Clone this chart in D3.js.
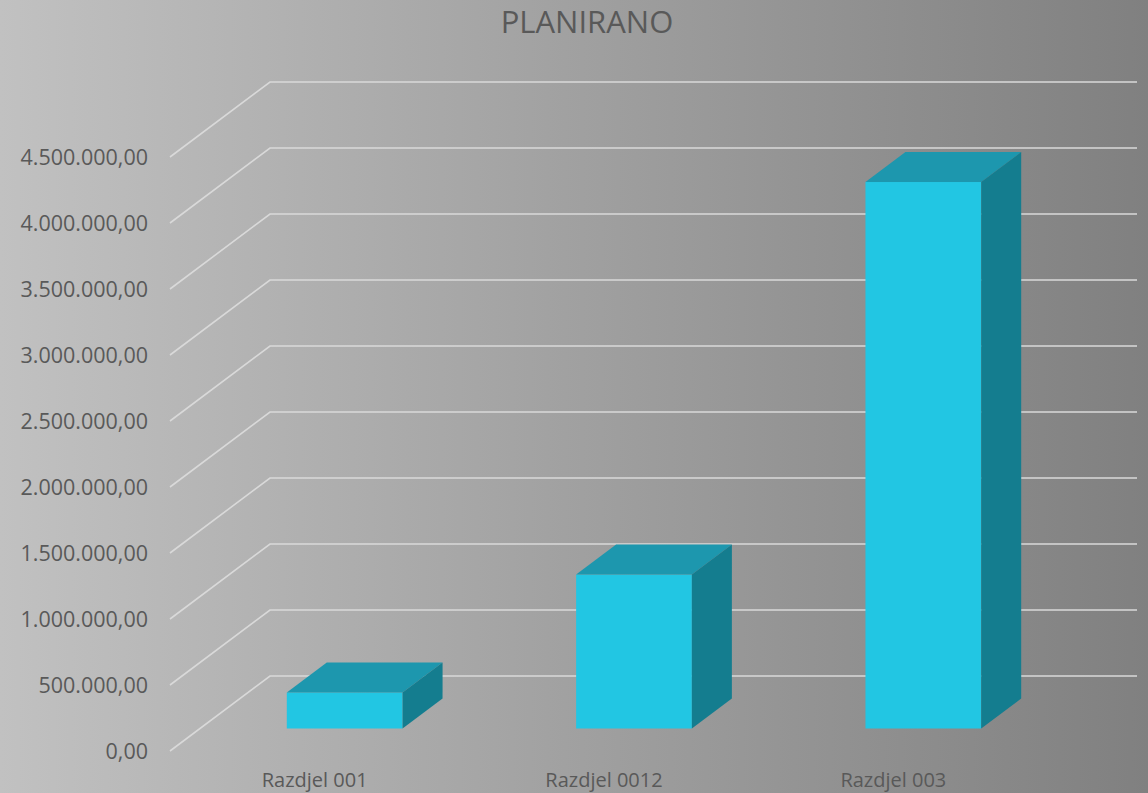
<!DOCTYPE html>
<html>
<head>
<meta charset="utf-8">
<script src="https://cdn.jsdelivr.net/npm/d3@7"></script>
<style>
  html, body { margin: 0; padding: 0; }
  body { width: 1148px; height: 793px; overflow: hidden; }
  text { font-family: "Open Sans", "DejaVu Sans", sans-serif; fill: #595959; }
</style>
</head>
<body>
<div id="chart"></div>
<script>
// data
var categories = ["Razdjel 001", "Razdjel 0012", "Razdjel 003"];
var planirano = [273000, 1166000, 4140000];
var yTicks = [0, 500000, 1000000, 1500000, 2000000, 2500000, 3000000, 3500000, 4000000, 4500000];

var width = 1148, height = 793;

// front plane and depth vector of the oblique 3D box
var front = {left: 170, right: 1038, floor: 751};
var depth = {dx: 100, dy: -75};
var barDepth = [0.3, 0.7];

var svg = d3.select("#chart")
  .append("svg")
  .attr("width", width)
  .attr("height", height);

// background gradient
var grad = svg.append("defs").append("linearGradient")
  .attr("id", "bg")
  .attr("x1", "0%").attr("x2", "100%")
  .attr("y1", "0%").attr("y2", "0%");
grad.append("stop").attr("offset", "0%").attr("stop-color", "#c1c1c1");
grad.append("stop").attr("offset", "100%").attr("stop-color", "#808080");

svg.append("rect")
  .attr("width", width)
  .attr("height", height)
  .attr("fill", "url(#bg)");

// title
svg.append("text")
  .attr("x", 587)
  .attr("y", 33)
  .attr("text-anchor", "middle")
  .style("font-size", "31px")
  .text("PLANIRANO");

// scales
var xScale = d3.scaleBand()
  .domain(categories)
  .range([front.left, front.right]);

// pixel height for a value
var hScale = d3.scaleLinear()
  .domain([0, 4500000])
  .range([0, 594]);

var locale = d3.formatLocale({decimal: ",", thousands: ".", grouping: [3], currency: ["", ""]});
var fmt = locale.format(",.2f");

// gridlines: front-left -> back-left -> back-right
var grid = svg.append("g").attr("class", "grid");
grid.selectAll("path")
  .data(yTicks)
  .enter()
  .append("path")
  .attr("fill", "none")
  .attr("stroke", "#d9d9d9")
  .attr("stroke-width", 1.6)
  .attr("d", function(d) {
    var yf = front.floor - hScale(d);
    var yb = yf + depth.dy;
    return "M" + front.left + "," + yf +
      "L" + (front.left + depth.dx) + "," + yb +
      "L" + (front.right + depth.dx - 1) + "," + yb;
  });

// y labels
svg.append("g").selectAll("text")
  .data(yTicks)
  .enter()
  .append("text")
  .attr("x", 148)
  .attr("y", function(d) { return front.floor - hScale(d); })
  .attr("dy", "0.35em")
  .attr("text-anchor", "end")
  .style("font-size", "21.5px")
  .text(function(d) { return fmt(d); });

// category labels
svg.append("g").selectAll("text")
  .data(categories)
  .enter()
  .append("text")
  .attr("x", function(d) { return xScale(d) + xScale.bandwidth() / 2; })
  .attr("y", 787)
  .attr("text-anchor", "middle")
  .style("font-size", "20px")
  .text(function(d) { return d; });

// bars
var t0 = barDepth[0], t1 = barDepth[1];
var ddx = (t1 - t0) * depth.dx, ddy = (t1 - t0) * depth.dy;

var bars = svg.append("g").selectAll("g")
  .data(planirano)
  .enter()
  .append("g");

function frontBox(d, i) {
  var x0 = xScale(categories[i]) + xScale.bandwidth() * 0.3 + t0 * depth.dx;
  var w = xScale.bandwidth() * 0.4;
  var yb = front.floor + t0 * depth.dy;
  var yt = yb - hScale(d);
  return {x0: x0, x1: x0 + w, yt: yt, yb: yb};
}

bars.append("rect")
  .attr("x", function(d, i) { return frontBox(d, i).x0; })
  .attr("y", function(d, i) { return frontBox(d, i).yt; })
  .attr("width", function(d, i) { var b = frontBox(d, i); return b.x1 - b.x0; })
  .attr("height", function(d, i) { var b = frontBox(d, i); return b.yb - b.yt; })
  .attr("fill", "#22c6e3");

// top face
bars.append("path")
  .attr("fill", "#1d97ae")
  .attr("d", function(d, i) {
    var b = frontBox(d, i);
    return "M" + b.x0 + "," + b.yt +
      "L" + (b.x0 + ddx) + "," + (b.yt + ddy) +
      "L" + (b.x1 + ddx) + "," + (b.yt + ddy) +
      "L" + b.x1 + "," + b.yt + "Z";
  });

// side face
bars.append("path")
  .attr("fill", "#147d8f")
  .attr("d", function(d, i) {
    var b = frontBox(d, i);
    return "M" + b.x1 + "," + b.yt +
      "L" + (b.x1 + ddx) + "," + (b.yt + ddy) +
      "L" + (b.x1 + ddx) + "," + (b.yb + ddy) +
      "L" + b.x1 + "," + b.yb + "Z";
  });
</script>
</body>
</html>
